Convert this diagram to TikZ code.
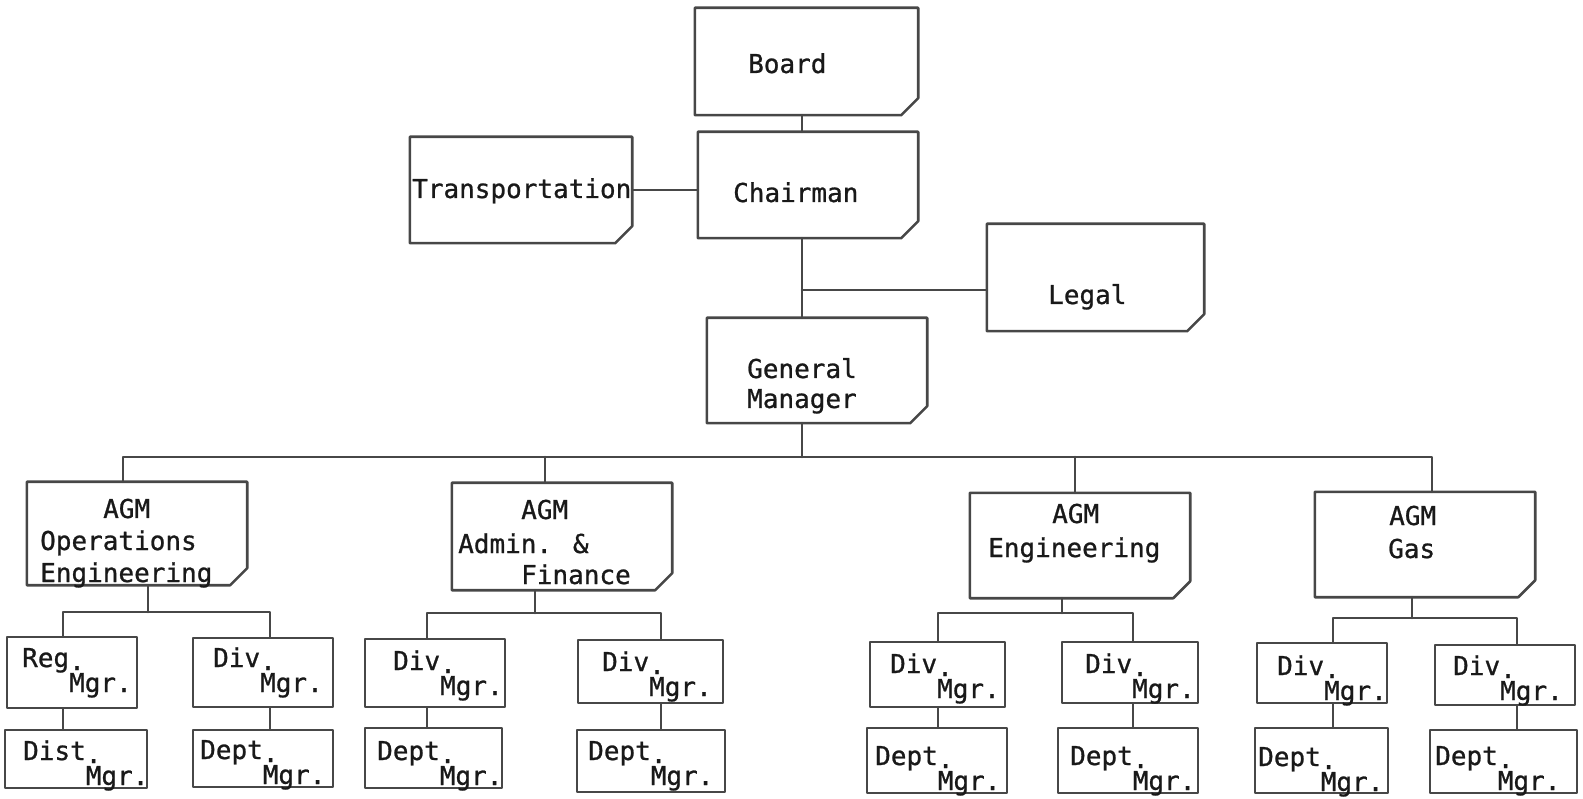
\documentclass[tikz,border=0pt]{standalone}
\usepackage{fontspec}
\newfontfamily\typer[FakeBold=0.9]{DejaVu Sans Mono}
\tikzset{
  ln/.style={line width=2.6pt, draw=black!72, line cap=round, line join=round},
  sbox/.style={ln, rectangle, inner sep=0pt},
  cbox/.style={rectangle, inner sep=0pt, draw=none},
  lbl/.style={anchor=base west, inner sep=0pt, font=\typer\fontsize{26}{30}\selectfont, text=black!90},
}
% style, name, left, top, right, bottom
\newcommand\boxat[6]{%
  \node[#1, minimum width={(#5-#3)*1pt}, minimum height={(#6-#4)*1pt}] (#2) at ({(#3+#5)/2},{(#4+#6)/2}) {};}
\newcommand\cutline[1]{%
  \draw[ln] (#1.north west) -- (#1.north east) -- ([yshift=17pt]#1.south east) -- ([xshift=-17pt]#1.south east) -- (#1.south west) -- cycle;}
% name, x, y, word
\newcommand\mtext[4]{%
  \node[lbl] (#1) at (#2,#3) {#4\rlap{\raisebox{-3pt}{.}}\rlap{\raisebox{-25pt}{Mgr.}}};}
\begin{document}
\begin{tikzpicture}[x=1pt,y=-1pt]
\useasboundingbox (0,0) rectangle (1583,799);

% upper boxes with cut corner
\boxat{cbox}{board}{695}{8}{918}{115}\cutline{board}
\boxat{cbox}{chair}{698}{132}{918}{238}\cutline{chair}
\boxat{cbox}{trans}{410}{137}{632}{243}\cutline{trans}
\boxat{cbox}{legal}{987}{224}{1204}{331}\cutline{legal}
\boxat{cbox}{gm}{707}{318}{927}{423}\cutline{gm}
\boxat{cbox}{ops}{27}{482}{247}{585}\cutline{ops}
\boxat{cbox}{adm}{452}{483}{672}{590}\cutline{adm}
\boxat{cbox}{eng}{970}{493}{1190}{598}\cutline{eng}
\boxat{cbox}{gas}{1315}{492}{1535}{597}\cutline{gas}

% lower boxes
\boxat{sbox}{reg}{7}{637}{137}{708}
\boxat{sbox}{dist}{5}{730}{147}{788}
\boxat{sbox}{odiv}{193}{638}{333}{707}
\boxat{sbox}{odept}{193}{730}{333}{787}
\boxat{sbox}{adiv1}{365}{639}{505}{707}
\boxat{sbox}{adept1}{365}{728}{502}{788}
\boxat{sbox}{adiv2}{578}{640}{723}{703}
\boxat{sbox}{adept2}{577}{730}{725}{792}
\boxat{sbox}{ediv1}{870}{642}{1005}{707}
\boxat{sbox}{edept1}{867}{728}{1007}{793}
\boxat{sbox}{ediv2}{1062}{642}{1198}{703}
\boxat{sbox}{edept2}{1058}{728}{1198}{793}
\boxat{sbox}{gdiv1}{1257}{643}{1387}{703}
\boxat{sbox}{gdept1}{1255}{728}{1388}{793}
\boxat{sbox}{gdiv2}{1435}{645}{1575}{705}
\boxat{sbox}{gdept2}{1430}{730}{1577}{793}

% texts of upper boxes
\node[lbl] (tboard) at (748,73) {Board};
\node[lbl] (tchair) at (733,202) {Chairman};
\node[lbl] (ttrans) at (412,198) {Transportation};
\node[lbl] (tlegal) at (1048,304) {Legal};
\node[lbl] (tgm1) at (747,378) {General};
\node[lbl] (tgm2) at (747,408) {Manager};
\node[lbl] (tops1) at (103,518) {AGM};
\node[lbl] (tops2) at (40,550) {Operations};
\node[lbl] (tops3) at (40,582) {Engineering};
\node[lbl] (tadm1) at (521,519) {AGM};
\node[lbl] (tadm2) at (458,553) {Admin. \&};
\node[lbl] (tadm3) at (521,584) {Finance};
\node[lbl] (teng1) at (1052,523) {AGM};
\node[lbl] (teng2) at (988,557) {Engineering};
\node[lbl] (tgas1) at (1389,525) {AGM};
\node[lbl] (tgas2) at (1388,558) {Gas};

% texts of lower boxes
\mtext{treg}{22}{667}{Reg}
\mtext{tdist}{23}{760}{Dist}
\mtext{todiv}{213}{667}{Div}
\mtext{todept}{200}{759}{Dept}
\mtext{tadiv1}{393}{670}{Div}
\mtext{tadept1}{377}{760}{Dept}
\mtext{tadiv2}{602}{671}{Div}
\mtext{tadept2}{588}{760}{Dept}
\mtext{tediv1}{890}{673}{Div}
\mtext{tedept1}{875}{765}{Dept}
\mtext{tediv2}{1085}{673}{Div}
\mtext{tedept2}{1070}{765}{Dept}
\mtext{tgdiv1}{1277}{675}{Div}
\mtext{tgdept1}{1258}{766}{Dept}
\mtext{tgdiv2}{1453}{675}{Div}
\mtext{tgdept2}{1435}{765}{Dept}

% connectors, top part
\coordinate (spine) at (802,0);
\coordinate (lj) at (802,290);
\coordinate (busL) at (123,457);
\coordinate (busR) at (1432,457);
\coordinate (d2) at (545,457);
\coordinate (d3) at (1075,457);
\draw[ln] (board.south -| spine) -- (chair.north -| spine);
\draw[ln] (trans.east) -- (trans.east -| chair.west);
\draw[ln] (chair.south -| spine) -- (gm.north -| spine);
\draw[ln] (lj) -- (lj -| legal.west);
\draw[ln] (gm.south -| spine) -- (busL -| spine);
\draw[ln] (ops.north -| busL) -- (busL) -- (busR) -- (busR |- gas.north);
\draw[ln] (d2) -- (d2 |- adm.north);
\draw[ln] (d3) -- (d3 |- eng.north);

% operations group
\coordinate (o1) at (63,612);
\coordinate (o2) at (270,612);
\coordinate (ost) at (148,612);
\draw[ln] (ops.south -| ost) -- (ost);
\draw[ln] (reg.north -| o1) -- (o1) -- (o2) -- (o2 |- odiv.north);
\draw[ln] (reg.south -| o1) -- (dist.north -| o1);
\draw[ln] (odiv.south -| o2) -- (odept.north -| o2);

% admin group
\coordinate (a1) at (427,613);
\coordinate (a2) at (661,613);
\coordinate (ast) at (535,613);
\draw[ln] (adm.south -| ast) -- (ast);
\draw[ln] (adiv1.north -| a1) -- (a1) -- (a2) -- (a2 |- adiv2.north);
\draw[ln] (adiv1.south -| a1) -- (adept1.north -| a1);
\draw[ln] (adiv2.south -| a2) -- (adept2.north -| a2);

% engineering group
\coordinate (e1) at (938,613);
\coordinate (e2) at (1133,613);
\coordinate (est) at (1062,613);
\draw[ln] (eng.south -| est) -- (est);
\draw[ln] (ediv1.north -| e1) -- (e1) -- (e2) -- (e2 |- ediv2.north);
\draw[ln] (ediv1.south -| e1) -- (edept1.north -| e1);
\draw[ln] (ediv2.south -| e2) -- (edept2.north -| e2);

% gas group
\coordinate (g1) at (1333,618);
\coordinate (g2) at (1517,618);
\coordinate (gst) at (1412,618);
\draw[ln] (gas.south -| gst) -- (gst);
\draw[ln] (gdiv1.north -| g1) -- (g1) -- (g2) -- (g2 |- gdiv2.north);
\draw[ln] (gdiv1.south -| g1) -- (gdept1.north -| g1);
\draw[ln] (gdiv2.south -| g2) -- (gdept2.north -| g2);
\end{tikzpicture}
\end{document}
